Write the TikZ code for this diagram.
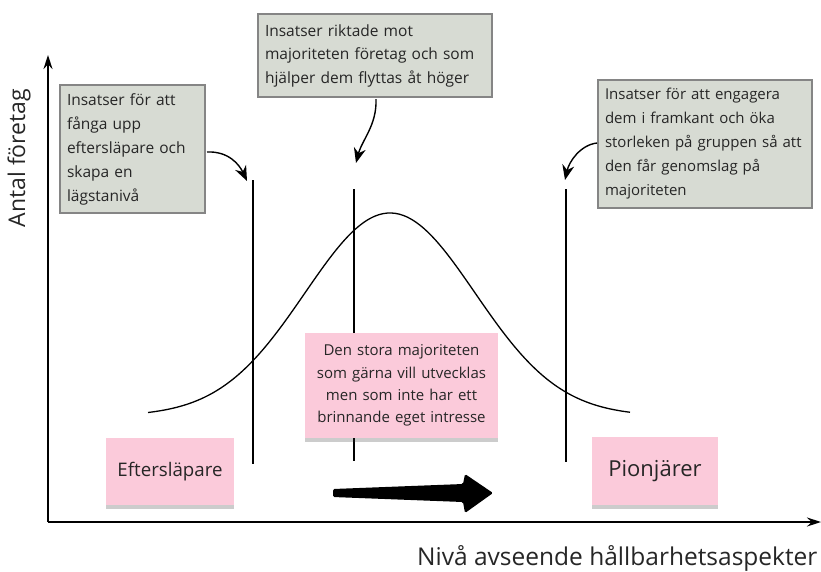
\documentclass[tikz,border=0pt]{standalone}
\usepackage{fontspec}
\setmainfont{Open Sans}
\usetikzlibrary{arrows.meta,shadows}
\definecolor{greybox}{HTML}{D7DBD3}
\definecolor{greyedge}{HTML}{858585}
\definecolor{pinkbox}{HTML}{FBCADA}
\definecolor{txt}{HTML}{262626}
\begin{document}
\begin{tikzpicture}[x=1pt,y=-1pt,
  note/.style={draw=greyedge, line width=1.2pt, fill=greybox, text=txt, align=left,
    font=\fontsize{15.5}{24}\selectfont, inner xsep=7pt, anchor=center},
  sticky/.style={fill=pinkbox, text=txt, align=center, anchor=center,
    drop shadow={shadow xshift=0pt, shadow yshift=-3.5pt, opacity=0.25, fill=black!80}},
  axis/.style={line width=1.4pt, -{Stealth[length=14pt,width=9pt]}},
  split/.style={line width=1.3pt},
  callout/.style={line width=1.4pt, -{Stealth[length=15pt,width=12pt]}}
]
\useasboundingbox (0,0) rectangle (821,571);
% axes
\coordinate (o) at (48,522);
\coordinate (ytop) at (48,55);
\coordinate (xend) at (821,522);
\draw[axis] (o) -- (ytop);
\draw[axis] (o) -- (xend);
\node[rotate=90, font=\fontsize{23}{23}\selectfont, text=txt] (ylab) at (19,158) {Antal företag};
\node[font=\fontsize{24.5}{24.5}\selectfont, text=txt, anchor=base east] (xlab) at (821,565) {Nivå avseende hållbarhetsaspekter};
% bell curve
\draw[line width=1.3pt] plot[domain=148:630, samples=120, smooth] (\x, {416-203*exp(-((\x-390)/85)^2/2)});
% vertical dividers
\coordinate (v1t) at (253,180); \coordinate (v1b) at (253,464);
\coordinate (v2t) at (354,189); \coordinate (v2b) at (354,461);
\coordinate (v3t) at (566,189); \coordinate (v3b) at (566,462);
\draw[split] (v1t) -- (v1b);
\draw[split] (v2t) -- (v2b);
\draw[split] (v3t) -- (v3b);
% grey notes
\node[note, minimum width=145pt, minimum height=128pt, text width=131pt] (n1) at (132.5,149)
  {Insatser för att\\fånga upp\\eftersläpare och\\skapa en\\lägstanivå};
\node[note, minimum width=234pt, minimum height=83pt, text width=220pt, font=\fontsize{15.5}{23.5}\selectfont] (n2) at (375,55.5)
  {Insatser riktade mot\\majoriteten företag och som\\hjälper dem flyttas åt höger};
\node[note, minimum width=214pt, minimum height=128pt, text width=200pt, font=\fontsize{15}{24}\selectfont] (n3) at (705,144)
  {Insatser för att engagera\\dem i framkant och öka\\storleken på gruppen så att\\den får genomslag på\\majoriteten};
% callout arrows
\coordinate (a1s) at (207,152); \coordinate (a1e) at (247,181);
\coordinate (a2s) at (376,99); \coordinate (a2e) at (356,163);
\coordinate (a3s) at (597,143); \coordinate (a3e) at (565,180);
\draw[callout] (a1s) .. controls (228,151) and (239,164) .. (a1e);
\draw[callout] (a2s) .. controls (377,125) and (362,140) .. (a2e);
\draw[callout] (a3s) .. controls (580,145) and (569,162) .. (a3e);
% pink stickies
\node[sticky, minimum width=128pt, minimum height=67pt, font=\fontsize{18.7}{20}\selectfont] (s1) at (170,471.5) {Eftersläpare};
\node[sticky, minimum width=126pt, minimum height=68pt, font=\fontsize{22}{24}\selectfont] (s3) at (655,471) {Pionjärer};
\node[sticky, minimum width=193pt, minimum height=105pt, text width=187pt, font=\fontsize{15}{22.3}\selectfont] (s2) at (401.5,385.5)
  {Den stora majoriteten\\som gärna vill utvecklas\\men som inte har ett\\brinnande eget intresse};
% big arrow
\fill[rounded corners=1.5pt] (333,489) -- (463,484) -- (465,474) -- (493,493) -- (465,513) -- (463,502) -- (333,497) -- cycle;
\end{tikzpicture}
\end{document}
